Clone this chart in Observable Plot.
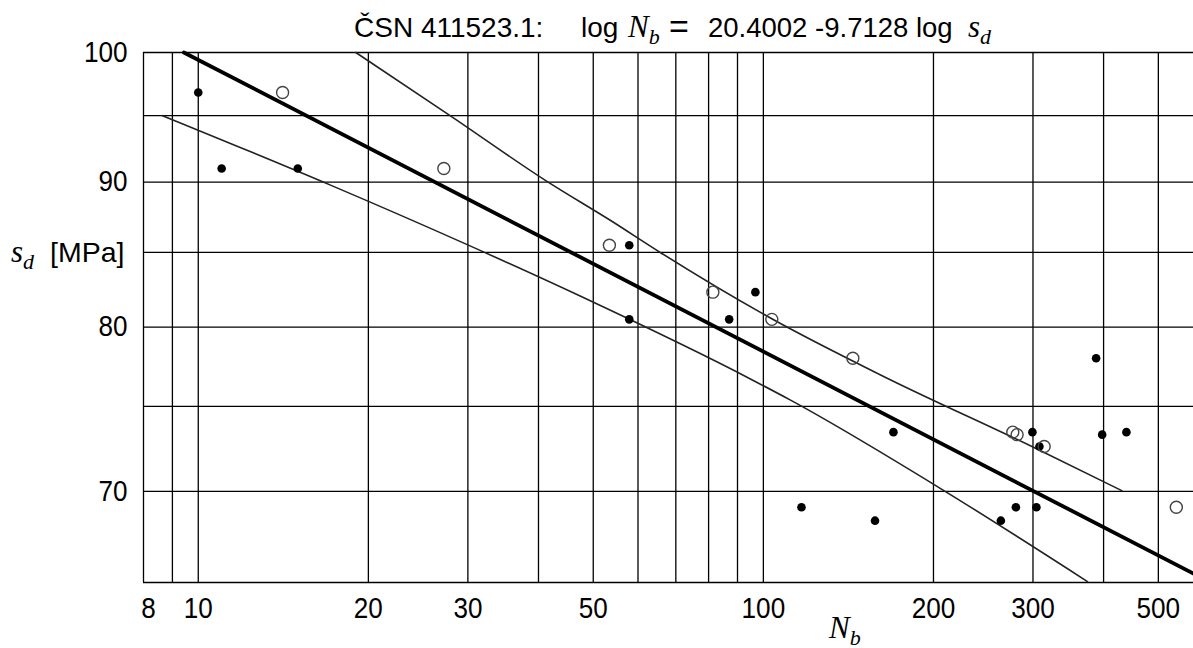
<!DOCTYPE html>
<html><head><meta charset="utf-8">
<script src="https://cdn.jsdelivr.net/npm/d3@7"></script>
<script src="https://cdn.jsdelivr.net/npm/@observablehq/plot@0.6"></script>
<style>body{margin:0;background:#fff}</style>
</head><body><div id="chart"></div>
<script>
// grid & ticks
const xGrid = [8, 9, 10, 20, 30, 40, 50, 60, 70, 80, 90, 100, 200, 300, 400, 500];
const xTicks = [10, 20, 30, 50, 100, 200, 300, 500];
const xTickFirst = [8];
const yGrid = [65, 70, 75, 80, 85, 90, 95, 100];
const yTicks = [70, 80, 90, 100];

// filled points (N_b, s_d)
const filledN = [10, 11, 15, 57.9, 57.9, 87, 96.8, 116.8, 157.6, 169.9, 263.2, 279.8, 304.2, 299.3, 308, 388, 397.7, 439];
const filledS = [96.8, 91.0, 91.0, 85.5, 80.5, 80.5, 82.3, 69.1, 68.35, 73.45, 68.35, 69.1, 69.1, 73.45, 72.6, 78.0, 73.3, 73.45];

// open points
const openN = [14.1, 27.2, 53.4, 81.4, 103.5, 144, 276.3, 281.2, 314, 538];
const openS = [96.8, 91.0, 85.5, 82.3, 80.5, 78.0, 73.45, 73.3, 72.6, 69.1];

// regression line  log N = 20.4002 - 9.7128 log s  (end points)
const fitN = [9.43, 577];
const fitS = [100, 65.47];

// upper thin line
const upperN = [19.0, 27.9, 41.6, 53.5, 65.7, 103.5, 160.9, 300.6, 430.8];
const upperS = [100, 95, 90, 87.27, 85, 80.54, 76.96, 72.55, 70.04];

// lower thin line
const lowerN = [8.64, 17.1, 29.85, 47.4, 95.4, 111.5, 209.7, 374.6];
const lowerS = [95, 89.8, 85.56, 82.04, 76.65, 75.4, 70.0, 65.05];

const zip = (a, b) => a.map((v, i) => ({N: v, s: b[i]}));
const filled = zip(filledN, filledS);
const open = zip(openN, openS);
const fit = zip(fitN, fitS);
const upper = zip(upperN, upperS);
const lower = zip(lowerN, lowerS);

const sans = "'Liberation Sans', Arial, sans-serif";
const serif = "'Liberation Serif', 'DejaVu Serif', serif";

const plot = Plot.plot({
  width: 1193, height: 648,
  marginLeft: 143, marginRight: 0, marginTop: 52, marginBottom: 66,
  style: {fontFamily: sans, fontSize: "29px", color: "#000", background: "#fff", overflow: "visible"},
  x: {type: "log", domain: [8, 577], label: null},
  y: {type: "log", domain: [65, 100], label: null},
  marks: [
    Plot.ruleX(xGrid, {stroke: "#000", strokeWidth: 1.3}),
    Plot.ruleY(yGrid, {stroke: "#000", strokeWidth: 1.3}),
    Plot.axisX(xTicks, {tickFormat: d => String(d), tickSize: 0, tickPadding: 15, fontSize: 29, label: null, fill: "#000"}),
    Plot.axisX(xTickFirst, {tickFormat: d => String(d), tickSize: 0, tickPadding: 15, fontSize: 29, label: null, fill: "#000", dx: 5}),
    Plot.axisY(yTicks, {tickFormat: d => String(d), tickSize: 0, tickPadding: 16, fontSize: 29, label: null, fill: "#000"}),
    Plot.line(upper, {x: "N", y: "s", stroke: "#222", strokeWidth: 1.6, curve: "monotone-x"}),
    Plot.line(lower, {x: "N", y: "s", stroke: "#222", strokeWidth: 1.6, curve: "monotone-x"}),
    Plot.line(fit, {x: "N", y: "s", stroke: "#000", strokeWidth: 3.8}),
    Plot.dot(filled, {x: "N", y: "s", r: 4.3, fill: "#000", stroke: "none"}),
    Plot.dot(open, {x: "N", y: "s", r: 6, fill: "none", stroke: "#444", strokeWidth: 1.4})
  ]
});
document.getElementById("chart").appendChild(plot);

const svg = d3.select(plot);
function squeeze(sel, factor) {
  sel.each(function () {
    const w = this.getComputedTextLength();
    this.setAttribute("textLength", (w * factor).toFixed(1));
    this.setAttribute("lengthAdjust", "spacingAndGlyphs");
  });
}
squeeze(svg.selectAll('g[aria-label="x-axis tick label"] text, g[aria-label="y-axis tick label"] text'), 0.9);

function txt(x, y, s, size, family, italic, anchor) {
  return svg.append("text").attr("x", x).attr("y", y).attr("font-size", size)
    .attr("font-family", family).attr("font-style", italic ? "italic" : "normal")
    .attr("text-anchor", anchor || "start").attr("fill", "#000").text(s);
}
function mathSub(x, y, base, sub, size) {
  const t = svg.append("text").attr("x", x).attr("y", y).attr("fill", "#000").attr("text-anchor", "start");
  t.append("tspan").attr("font-family", serif).attr("font-style", "italic").attr("font-size", size).text(base);
  t.append("tspan").attr("font-family", serif).attr("font-style", "italic").attr("font-size", Math.round(size * 0.7)).attr("dy", size * 0.22).text(sub);
  return t;
}
// title
txt(354, 37, "ČSN 411523.1:", 28, sans);
txt(581, 37, "log", 28, sans);
mathSub(628, 37, "N", "b", 31);
txt(679, 38, "=", 34, sans, false, "middle");
txt(708, 37, "20.4002 -9.7128 log", 27.5, sans);
mathSub(968, 37, "s", "d", 31);
// y label
mathSub(11, 262, "s", "d", 31);
txt(50, 262, "[MPa]", 28.5, sans);
// x label
mathSub(829, 638, "N", "b", 31);
</script>
</body></html>
